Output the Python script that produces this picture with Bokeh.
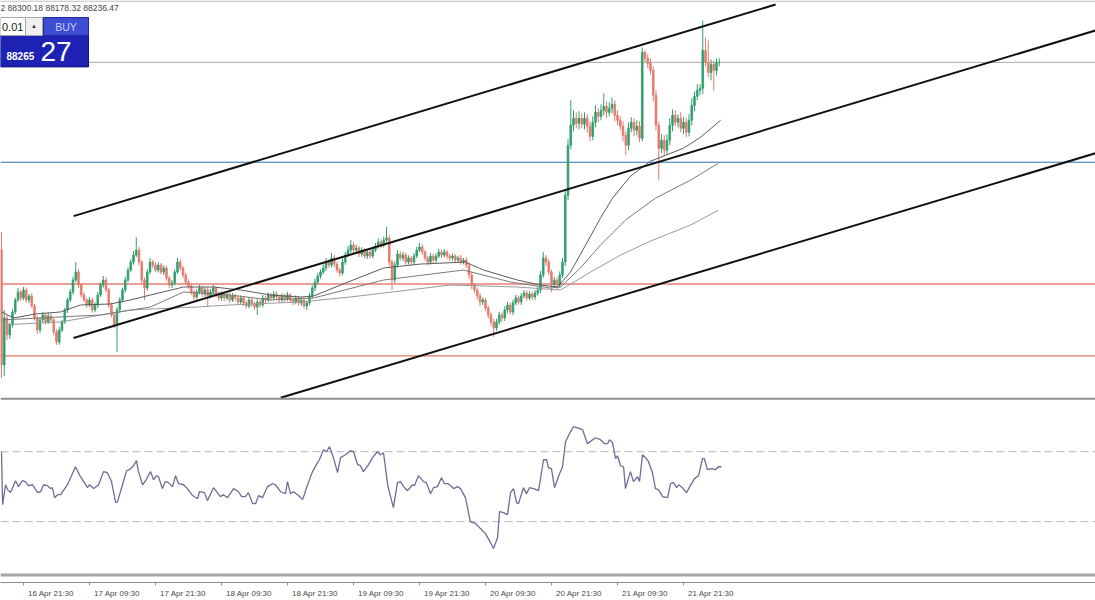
from bokeh.plotting import figure
from bokeh.models import Range1d, FixedTicker, Span, ColumnDataSource
from bokeh.embed import file_html
from bokeh.resources import INLINE
from bokeh.core.properties import value

# ---------------- data ----------------
tick_bars = [8, 32, 56, 80, 104, 128, 152, 176, 200, 224, 248]
tick_labels = ["16 Apr 21:30", "17 Apr 09:30", "17 Apr 21:30", "18 Apr 09:30",
               "18 Apr 21:30", "19 Apr 09:30", "19 Apr 21:30", "20 Apr 09:30",
               "20 Apr 21:30", "21 Apr 09:30", "21 Apr 21:30"]

first_open = 85416
closes = [
    83691, 84396, 84141, 84291, 84486, 84666, 84786, 84696, 84816, 84666,
    84726, 84576, 84396, 84216, 84366, 84441, 84336, 84426, 84366, 84186,
    84036, 84216, 84336, 84516, 84666, 84786, 84966, 85086, 84891, 84741,
    84666, 84591, 84666, 84516, 84591, 84741, 84891, 84966, 84816, 84591,
    84441, 84291, 84516, 84666, 84816, 84966, 85116, 85236, 85341, 85416,
    85236, 84966, 84846, 85086, 85236, 85191, 85116, 85191, 85086, 85146,
    84996, 84891, 84921, 85086, 85236, 85146, 85041, 84936, 84876, 84786,
    84711, 84786, 84846, 84756, 84816, 84726, 84786, 84846, 84756, 84696,
    84756, 84696, 84741, 84666, 84726, 84696, 84636, 84696, 84621, 84576,
    84666, 84606, 84561, 84636, 84591, 84696, 84666, 84741, 84696, 84756,
    84711, 84666, 84726, 84681, 84741, 84666, 84636, 84696, 84621, 84666,
    84576, 84621, 84726, 84846, 84936, 85026, 85086, 85146, 85236, 85191,
    85296, 85206, 85116, 85071, 85236, 85341, 85416, 85491, 85416, 85446,
    85356, 85416, 85326, 85386, 85326, 85416, 85476, 85536, 85491, 85566,
    85596, 85236, 84966, 85191, 85356, 85296, 85341, 85236, 85296, 85236,
    85326, 85416, 85461, 85386, 85296, 85236, 85326, 85266, 85326, 85386,
    85341, 85386, 85326, 85296, 85326, 85266, 85296, 85236, 85266, 85191,
    85041, 84891, 84816, 84726, 84636, 84666, 84546, 84441, 84336, 84246,
    84336, 84441, 84396, 84516, 84591, 84486, 84621, 84696, 84636, 84726,
    84771, 84696, 84756, 84711, 84771, 84816, 85041, 85296, 85236, 85086,
    84891, 84966, 84891, 85041, 85236, 86241, 86991, 87291, 87396, 87321,
    87396, 87306, 87396, 87276, 87126, 87336, 87486, 87426, 87516, 87576,
    87486, 87546, 87606, 87441, 87366, 87276, 87141, 86991, 87246, 87336,
    87216, 87276, 87096, 88386, 88296, 88221, 88116, 87741, 87291, 86946,
    87066, 86916, 87066, 87291, 87441, 87336, 87396, 87246, 87336, 87186,
    87366, 87591, 87726, 87816, 87846, 88416, 88236, 88086, 88206, 88116,
    88236, 88236.47]
upper_wick = [
    270, 120, 45, 30, 40, 35, 60, 30, 45, 40,
    30, 45, 35, 30, 40, 50, 30, 45, 35, 30,
    40, 45, 30, 35, 40, 45, 50, 150, 45, 30,
    40, 35, 45, 30, 40, 45, 35, 60, 40, 30,
    35, 30, 45, 40, 35, 50, 40, 45, 60, 195,
    45, 30, 40, 45, 60, 35, 40, 45, 30, 40,
    35, 30, 45, 40, 60, 40, 30, 35, 40, 30,
    35, 40, 45, 30, 40, 35, 45, 50, 30, 35,
    40, 30, 35, 40, 45, 30, 35, 40, 30, 35,
    45, 30, 35, 40, 30, 45, 35, 40, 30, 45,
    35, 30, 40, 35, 45, 30, 35, 40, 30, 45,
    35, 30, 45, 40, 50, 45, 40, 55, 60, 40,
    75, 45, 35, 30, 50, 45, 60, 75, 45, 50,
    35, 45, 30, 40, 35, 50, 45, 55, 40, 50,
    165, 45, 40, 55, 60, 40, 45, 35, 40, 30,
    45, 50, 60, 40, 35, 30, 45, 35, 40, 50,
    35, 45, 30, 35, 40, 30, 35, 45, 30, 40,
    35, 40, 30, 35, 45, 40, 30, 35, 40, 45,
    50, 45, 40, 55, 45, 40, 50, 45, 35, 40,
    45, 35, 40, 30, 45, 50, 60, 90, 45, 40,
    35, 50, 40, 55, 60, 75, 90, 375, 120, 90,
    105, 75, 90, 60, 75, 90, 105, 60, 90, 195,
    75, 90, 105, 60, 75, 60, 75, 60, 90, 75,
    60, 90, 75, 75, 30, 60, 75, 60, 75, 60,
    90, 75, 90, 105, 90, 75, 60, 90, 75, 60,
    90, 105, 75, 90, 60, 450, 195, 330, 75, 60,
    60, 63.71]
lower_wick = [
    195, 165, 75, 60, 40, 35, 30, 45, 35, 40,
    45, 30, 40, 60, 45, 35, 40, 30, 35, 45,
    45, 40, 35, 30, 45, 35, 40, 30, 45, 40,
    35, 45, 30, 40, 35, 45, 30, 40, 35, 45,
    40, 50, 405, 45, 35, 40, 30, 35, 40, 30,
    45, 50, 180, 40, 35, 45, 30, 40, 35, 45,
    40, 50, 45, 35, 30, 40, 45, 35, 40, 45,
    50, 40, 35, 45, 40, 165, 35, 40, 45, 35,
    40, 45, 35, 40, 30, 45, 40, 35, 45, 40,
    35, 40, 45, 120, 40, 35, 45, 30, 40, 35,
    45, 40, 35, 45, 30, 40, 45, 35, 40, 45,
    40, 60, 35, 40, 45, 35, 40, 30, 45, 40,
    35, 45, 40, 50, 35, 40, 30, 45, 40, 35,
    45, 40, 35, 45, 40, 35, 30, 40, 45, 35,
    40, 60, 150, 45, 40, 35, 45, 40, 35, 45,
    40, 35, 30, 45, 40, 50, 35, 40, 45, 30,
    40, 35, 45, 40, 35, 45, 30, 40, 35, 45,
    50, 60, 45, 55, 60, 45, 50, 55, 60, 135,
    45, 40, 60, 45, 50, 40, 45, 35, 40, 45,
    35, 40, 30, 45, 40, 35, 45, 40, 60, 45,
    105, 45, 60, 40, 45, 60, 75, 60, 90, 75,
    90, 60, 75, 90, 75, 60, 75, 90, 60, 75,
    90, 60, 75, 90, 75, 60, 90, 150, 75, 60,
    90, 75, 60, 45, 60, 75, 60, 90, 75, 480,
    75, 90, 60, 75, 90, 60, 75, 60, 90, 75,
    60, 75, 90, 60, 75, 90, 60, 75, 120, 300,
    75, 57.68]

# moving averages (vertices: bar index, price)
ma_fast_x = [0, 4.4, 12.4, 21.5, 28.7, 39.6, 46.9, 54.2, 66.2, 77.1, 86.9, 97.8,
             108.7, 113.5, 123.3, 138.9, 152.4, 168.7, 175.3, 187.6, 196.0, 202.2,
             206.9, 212.4, 217.8, 222.2, 228.7, 236.0, 241.5, 248.0, 254.2, 261.5]
ma_fast_y = [84486, 84396, 84456, 84486, 84591, 84606, 84666, 84741, 84861, 84861, 84816, 84741,
             84711, 84726, 84891, 85146, 85206, 85236, 85116, 84966, 84891, 84861,
             85086, 85491, 85896, 86196, 86526, 86751, 86841, 86946, 87111, 87366]
ma_mid_x = [0, 14.2, 36.0, 54.2, 66.2, 83.3, 97.8, 113.5, 138.9, 168.0, 185.1, 199.6,
            203.3, 210.5, 217.8, 226.9, 237.8, 250.5, 260.7]
ma_mid_y = [84366, 84396, 84441, 84561, 84786, 84741, 84666, 84696, 84966, 85116, 84936, 84846,
            84861, 85146, 85491, 85866, 86196, 86466, 86721]
ma_slow_x = [0, 21.5, 46.9, 71.3, 83.3, 108.7, 126.9, 163.3, 187.6, 203.3, 214.2, 225.1,
             236.0, 250.5, 260.7]
ma_slow_y = [84291, 84336, 84516, 84561, 84591, 84636, 84711, 84891, 84861, 84816, 85086, 85341,
             85551, 85791, 86016]

# equidistant channel (start bar, start price, end bar, end price)
chan_x0 = [26.2, 26.2, 101.5]
chan_y0 = [85926, 84096, 83196]
chan_x1 = [281.5, 397.8, 397.8]
chan_y1 = [89106, 88716, 86871]

# horizontal levels
level_prices = [88236.47, 86736, 84906, 83826]
level_colors = ["#a9a9a9", "#2f6fad", "#d6412e", "#cc5a36"]

# RSI vertices
rsi_x = [0.0, 0.4, 1.5, 2.2, 3.3, 5.1, 6.2, 7.6, 8.7, 9.8,
         11.3, 13.1, 14.2, 15.3, 16.7, 17.8, 18.5, 19.3, 20.4, 21.5,
         24.0, 26.9, 28.7, 31.3, 32.0, 33.5, 35.3, 37.1, 38.5, 40.0,
         41.5, 42.2, 44.0, 45.5, 46.5, 48.0, 49.1, 49.8, 51.3, 52.4,
         54.2, 55.3, 56.4, 57.1, 58.5, 59.6, 60.7, 62.2, 63.3, 64.4,
         66.2, 67.6, 69.5, 71.3, 72.0, 73.8, 74.9, 77.1, 79.6, 80.7,
         82.2, 84.4, 86.2, 87.3, 88.7, 89.8, 91.3, 92.4, 93.5, 94.9,
         96.7, 98.5, 99.6, 101.5, 103.3, 104.0, 105.1, 106.2, 108.0, 109.5,
         111.3, 113.1, 114.5, 115.6, 117.1, 118.2, 119.3, 120.7, 122.2, 123.3,
         125.1, 126.9, 128.0, 129.5, 130.5, 131.6, 133.5, 134.9, 136.7, 137.8,
         138.9, 140.5, 142.5, 144.0, 145.1, 146.2, 147.6, 149.5, 150.2, 151.6,
         153.5, 154.5, 156.0, 157.1, 158.5, 160.0, 161.1, 162.5, 164.4, 165.8,
         166.9, 168.7, 170.5, 172.4, 173.5, 176.0, 177.8, 178.9, 180.4, 181.1,
         182.5, 184.0, 185.1, 186.2, 187.3, 188.0, 189.8, 190.9, 192.0, 193.5,
         195.3, 197.1, 198.2, 198.9, 200.0, 201.1, 202.5, 204.0, 205.1, 206.9,
         208.0, 209.5, 211.3, 213.1, 214.5, 216.0, 217.8, 219.3, 220.4, 221.1,
         222.2, 223.3, 224.0, 225.1, 226.2, 226.9, 228.7, 229.8, 231.3, 232.0,
         233.1, 234.2, 235.3, 236.7, 237.8, 238.9, 240.4, 242.2, 243.3, 244.4,
         245.5, 246.2, 247.6, 249.1, 250.5, 252.0, 253.5, 254.9, 255.6, 256.7,
         258.2, 259.6, 260.7, 261.8]
rsi_v = [70.0, 39.7, 51.1, 48.3, 46.6, 53.4, 50.0, 53.4, 52.9, 50.6,
         51.1, 46.6, 47.1, 51.1, 50.6, 48.9, 49.4, 43.7, 45.4, 45.4,
         51.1, 61.4, 55.7, 49.4, 51.1, 48.9, 51.1, 58.6, 58.0, 52.9,
         40.9, 41.4, 51.1, 59.1, 59.7, 62.0, 64.9, 58.6, 51.1, 53.4,
         58.6, 54.0, 56.3, 55.7, 48.9, 52.9, 52.3, 50.0, 56.3, 51.7,
         51.1, 48.9, 44.9, 43.1, 47.1, 46.6, 42.0, 49.4, 44.3, 45.4,
         43.7, 48.9, 47.1, 44.3, 44.3, 46.6, 40.3, 40.3, 44.9, 43.7,
         50.0, 51.7, 51.1, 47.1, 46.0, 52.9, 46.0, 47.1, 44.9, 42.6,
         51.1, 58.6, 62.6, 65.4, 71.1, 70.0, 72.9, 66.6, 58.0, 66.6,
         68.3, 70.6, 70.0, 62.6, 62.0, 58.6, 62.6, 66.6, 70.0, 68.3,
         69.4, 50.3, 38.0, 52.3, 52.9, 50.0, 47.7, 51.1, 50.6, 56.3,
         52.9, 52.3, 46.0, 49.4, 50.0, 55.1, 51.7, 51.7, 48.9, 50.0,
         48.9, 43.7, 30.0, 28.9, 27.1, 23.1, 18.0, 14.6, 20.9, 35.7,
         35.1, 34.0, 46.6, 48.9, 40.9, 40.3, 49.4, 46.0, 49.4, 48.9,
         47.7, 65.4, 65.4, 60.9, 60.3, 49.4, 55.7, 61.4, 75.7, 81.4,
         84.3, 83.7, 82.6, 74.6, 76.3, 78.0, 76.9, 74.6, 74.6, 76.9,
         75.1, 66.0, 67.7, 62.0, 61.4, 48.9, 58.6, 52.9, 55.7, 52.9,
         68.3, 66.6, 64.3, 58.0, 48.9, 48.3, 44.3, 43.7, 51.7, 52.3,
         49.4, 51.1, 49.4, 46.6, 50.6, 54.6, 56.3, 66.0, 66.0, 59.7,
         60.3, 59.7, 61.4, 61.4]
rsi_levels = [70, 30]

info_text = "2 88300.18 88178.32 88236.47"
lot_text = "0.01"
ask_big = "88265"
ask_small = "27"

# ---------------- figure ----------------
W, H_FIG, H_FRAME = 1095, 600, 583
X0, X1 = -1 / 2.75, (W - 1) / 2.75
BULL, BEAR = "#2f9f6c", "#e47a6c"
FONT = value("Liberation Sans")


def px_x(px):  # screen-overlay helper (pixel -> bar units)
    return (px - 1) / 2.75


def px_y(py):  # screen-overlay helper (pixel -> price units)
    return 89166 - 15 * py


p = figure(width=W, height=H_FIG, x_range=Range1d(X0, X1),
           y_range=Range1d(px_y(H_FRAME), px_y(0)),
           output_backend="svg", toolbar_location=None, y_axis_location=None,
           min_border_left=0, min_border_right=0, min_border_top=0,
           min_border_bottom=H_FIG - H_FRAME,
           background_fill_color="white", border_fill_color="white", outline_line_color=None)
p.extra_y_ranges = {"rsi": Range1d((574.5 - H_FRAME) / 1.75, 574.5 / 1.75)}
p.grid.visible = False

ax = p.xaxis[0]
ax.ticker = FixedTicker(ticks=[t + 10 for t in tick_bars], minor_ticks=tick_bars)
ax.major_label_overrides = {t + 10: lab for t, lab in zip(tick_bars, tick_labels)}
ax.major_tick_line_color = None
ax.major_tick_out = 0
ax.major_tick_in = 0
ax.minor_tick_out = 3
ax.minor_tick_in = 0
ax.minor_tick_line_color = "#8a8a8a"
ax.axis_line_color = "#8a8a8a"
ax.major_label_text_font = "Liberation Sans"
ax.major_label_text_font_size = "8px"
ax.major_label_text_color = "#4a4a4a"
ax.major_label_standoff = 3

# horizontal levels
lv = ColumnDataSource(dict(y=level_prices, c=level_colors))
p.segment(x0=X0, x1=X1, y0="y", y1="y", line_color="c", line_width=1, source=lv)

# candles
opens = [first_open] + closes[:-1]
highs = [max(o, c) + w for o, c, w in zip(opens, closes, upper_wick)]
lows = [min(o, c) - w for o, c, w in zip(opens, closes, lower_wick)]
bars = list(range(len(closes)))
colors = [BULL if c >= o else BEAR for o, c in zip(opens, closes)]
cs = ColumnDataSource(dict(x=bars, h=highs, l=lows,
                           top=[max(o, c) for o, c in zip(opens, closes)],
                           bottom=[min(o, c) for o, c in zip(opens, closes)],
                           color=colors))
p.segment(x0="x", x1="x", y0="h", y1="l", line_color="color", line_width=1, source=cs)
p.vbar(x="x", width=0.6, top="top", bottom="bottom", fill_color="color",
       line_color="color", line_width=0.8, source=cs)

# moving averages
p.line(ma_slow_x, ma_slow_y, line_color="#9a9a9a", line_width=1)
p.line(ma_mid_x, ma_mid_y, line_color="#7a7a7a", line_width=1)
p.line(ma_fast_x, ma_fast_y, line_color="#5c5c5c", line_width=1)

# channel
p.segment(x0=chan_x0, y0=chan_y0, x1=chan_x1, y1=chan_y1, line_color="#111111", line_width=2)

# RSI panel
for lvl in rsi_levels:
    p.segment(x0=[X0], x1=[X1], y0=[lvl], y1=[lvl], y_range_name="rsi",
              line_color="#b6b6c6", line_width=1, line_dash="8 4")
p.line(rsi_x, rsi_v, y_range_name="rsi", line_color="#6d6d95", line_width=1.3)

# panel separators / borders
p.add_layout(Span(location=px_y(0.6), dimension="width", line_color="#b0b0b0", line_width=1))
p.add_layout(Span(location=(574.5 - 399) / 1.75, dimension="width", y_range_name="rsi",
                  line_color="#8e8e8e", line_width=2))
p.add_layout(Span(location=(574.5 - 575.5) / 1.75, dimension="width", y_range_name="rsi",
                  line_color="#a6a6a6", line_width=3))

# info text
p.text(x=[px_x(0)], y=[px_y(7.5)], text=[info_text], text_font=FONT, text_font_size="8.5px",
       text_color="#444444", text_align="left", text_baseline="middle")

# one-click trading panel
p.quad(left=[px_x(0)], right=[px_x(88)], top=[px_y(35)], bottom=[px_y(66.5)],
       fill_color="#1e22b2", line_color="#11137a", line_width=1)
p.quad(left=[px_x(0)], right=[px_x(25)], top=[px_y(17)], bottom=[px_y(35)],
       fill_color="#ffffff", line_color="#a8a8a8", line_width=1)
p.quad(left=[px_x(25)], right=[px_x(42)], top=[px_y(17)], bottom=[px_y(35)],
       fill_color="#f0f0f0", line_color="#a8a8a8", line_width=1)
p.quad(left=[px_x(43)], right=[px_x(88)], top=[px_y(17)], bottom=[px_y(35)],
       fill_color="#3c4dd4", line_color="#22289a", line_width=1)
p.text(x=[px_x(1.5)], y=[px_y(26.5)], text=[lot_text], text_font=FONT, text_font_size="11px",
       text_color="#1a1a1a", text_align="left", text_baseline="middle")
p.text(x=[px_x(33.5)], y=[px_y(26)], text=["\u25b2"], text_font=FONT, text_font_size="6px",
       text_color="#333333", text_align="center", text_baseline="middle")
p.text(x=[px_x(65.5)], y=[px_y(26.5)], text=["BUY"], text_font=FONT, text_font_size="10.5px",
       text_color="#c9d0ff", text_align="center", text_baseline="middle")
p.text(x=[px_x(6)], y=[px_y(56)], text=[ask_big], text_font=FONT, text_font_size="10px",
       text_font_style="bold", text_color="#ffffff", text_align="left", text_baseline="middle")
p.text(x=[px_x(40)], y=[px_y(51)], text=[ask_small], text_font=FONT, text_font_size="28px",
       text_color="#ffffff", text_align="left", text_baseline="middle")

open("out.html", "w").write(file_html(p, INLINE))
